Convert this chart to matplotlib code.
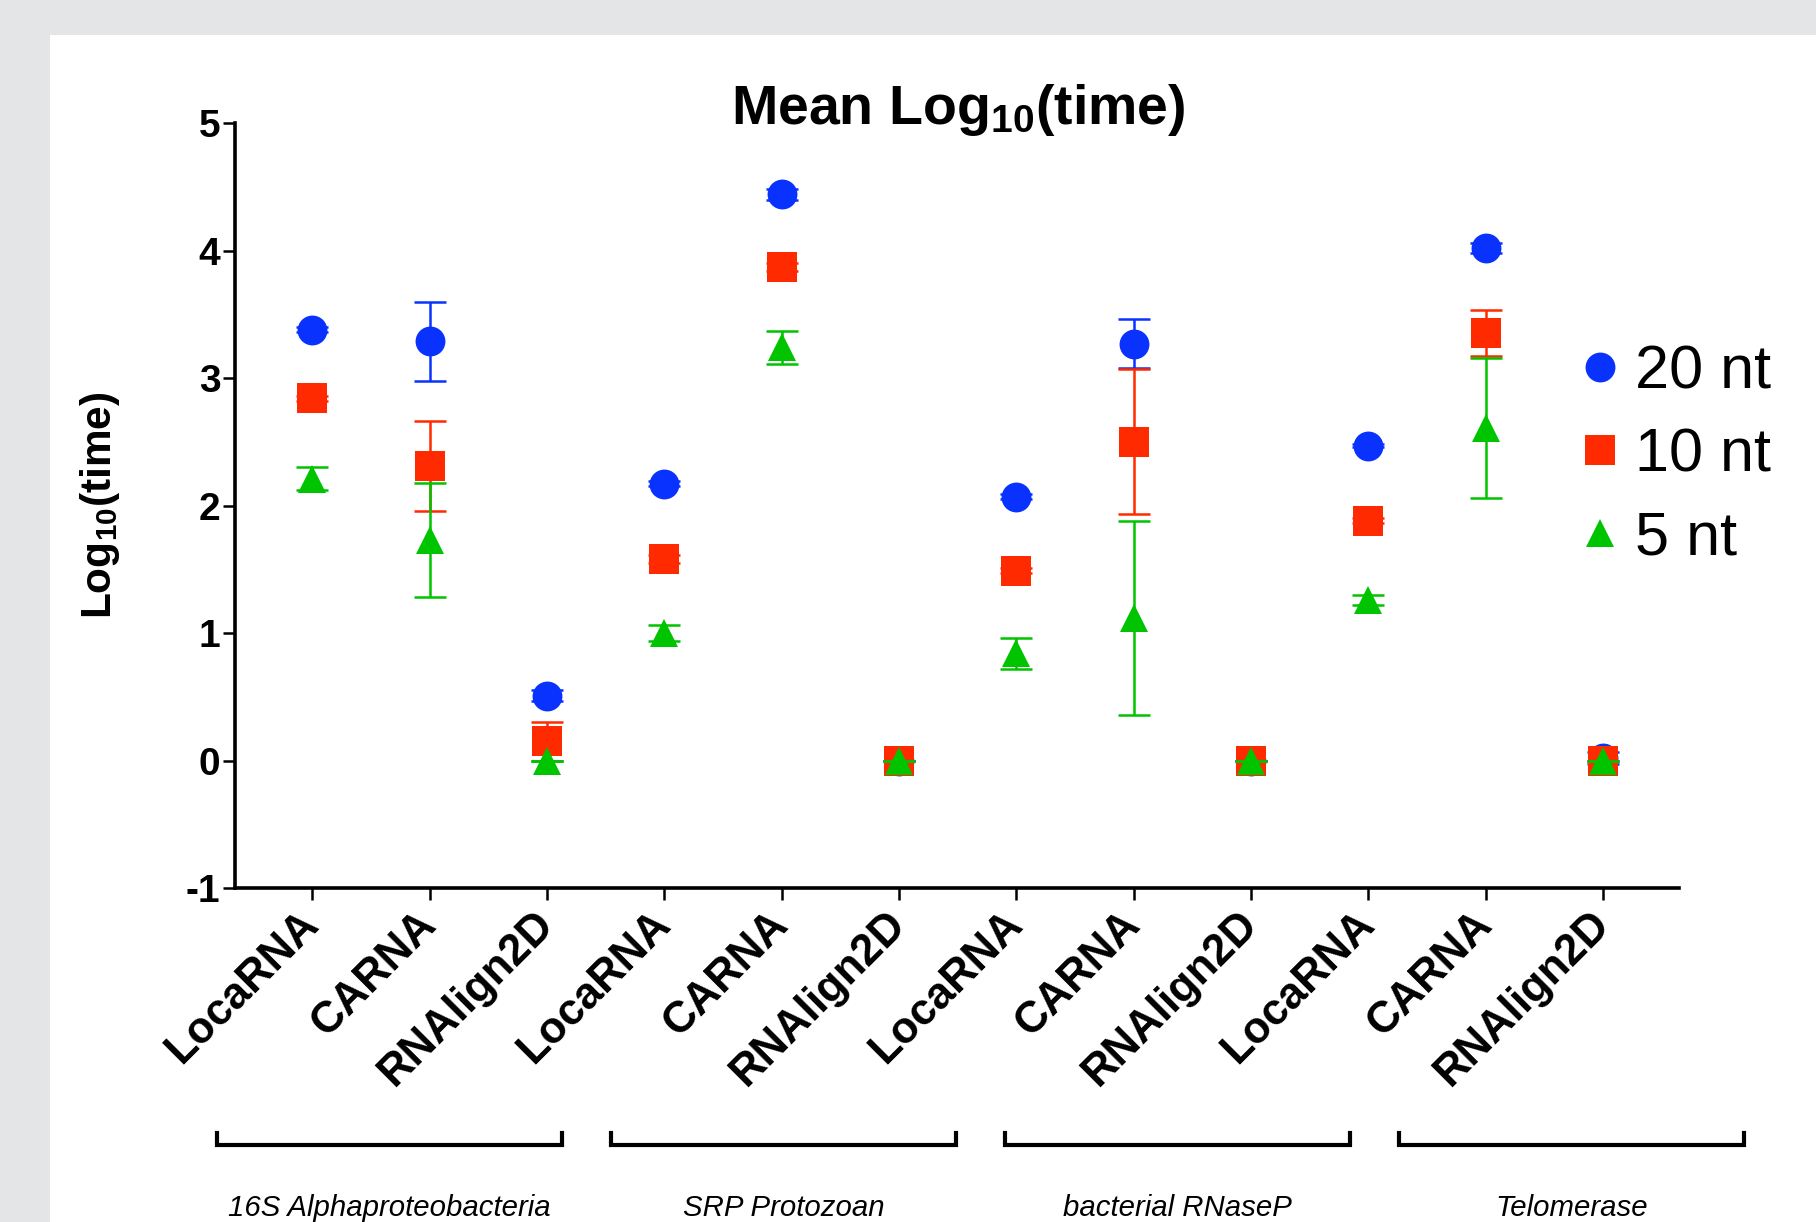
import matplotlib
matplotlib.use("Agg")
from matplotlib import pyplot as plt
from matplotlib.patches import Rectangle
from matplotlib.lines import Line2D

plt.rcParams['font.family'] = ['Liberation Sans', 'DejaVu Sans']
plt.rcParams['mathtext.default'] = 'regular'
plt.rcParams['axes.unicode_minus'] = False

methods = ["LocaRNA", "CARNA", "RNAlign2D"] * 4
groups = ["16S Alphaproteobacteria", "SRP Protozoan", "bacterial RNaseP", "Telomerase"]

nt20 = [3.38, 3.29, 0.51, 2.17, 4.44, 0.00, 2.07, 3.27, 0.00, 2.47, 4.02, 0.02]
nt20_err = [0.02, 0.31, 0.04, 0.02, 0.04, 0.00, 0.02, 0.19, 0.00, 0.01, 0.04, 0.05]
nt10 = [2.84, 2.31, 0.15, 1.58, 3.87, 0.00, 1.49, 2.50, 0.00, 1.88, 3.35, 0.00]
nt10_err = [0.02, 0.35, 0.15, 0.03, 0.03, 0.00, 0.02, 0.57, 0.00, 0.02, 0.18, 0.00]
nt5 = [2.21, 1.73, 0.00, 1.00, 3.24, 0.00, 0.84, 1.12, 0.00, 1.26, 2.61, 0.00]
nt5_err = [0.09, 0.45, 0.00, 0.06, 0.13, 0.00, 0.12, 0.76, 0.00, 0.04, 0.55, 0.00]

x = list(range(len(methods)))

fig = plt.figure(figsize=(18.16, 12.22), dpi=100, facecolor='#e4e5e7')
fig.patches.append(Rectangle((50 / 1816, 0), 1, 1 - 35 / 1222, transform=fig.transFigure,
                             facecolor='white', edgecolor='none', zorder=-5))

ax = fig.add_axes([0.1294, 0.2733, 0.7952, 0.626])
ax.set_facecolor('none')

series = [
    (nt20, nt20_err, '#0a32ff', 'o', 21.5, '20 nt'),
    (nt10, nt10_err, '#ff2a00', 's', 21, '10 nt'),
    (nt5, nt5_err, '#00c400', '^', 20, '5 nt'),
]
for vals, err, col, mk, ms, lab in series:
    ax.errorbar(x, vals, yerr=err, fmt='none', ecolor=col, elinewidth=1.8,
                capsize=11.5, capthick=1.8)
    ax.plot(x, vals, linestyle='none', marker=mk, markersize=ms, color=col,
            markeredgewidth=0, label=lab)

ax.set_xlim(-0.66, 11.65)
ax.set_ylim(-1, 5)
ax.set_yticks(range(-1, 6))
ax.set_xticks(x)
ax.set_xticklabels(methods, rotation=45, ha='right', va='center',
                   rotation_mode='anchor', fontsize=31.5, fontweight='bold')
for t in ax.get_yticklabels():
    t.set_fontweight('bold')
ax.tick_params(axis='y', labelsize=28, length=8.6, width=1.8, pad=2)
ax.tick_params(axis='x', length=8.6, width=1.8, pad=13)

for s in ['top', 'right']:
    ax.spines[s].set_visible(False)
for s in ['left', 'bottom']:
    ax.spines[s].set_linewidth(2.6)

ax.set_ylabel('Log$_{10}$(time)', fontsize=30.5, fontweight='bold')
ax.yaxis.set_label_coords(-0.078, 0.5)

fig.text(0.5275, 1 - 124 / 1222, 'Mean Log$_{10}$(time)', fontsize=40,
         fontweight='bold', ha='center', va='baseline')

ax.legend(loc='upper left', bbox_to_anchor=(1585 / 1816, 1 - 344 / 1222),
          bbox_transform=fig.transFigure, frameon=False, fontsize=44,
          handlelength=0.5, handletextpad=0.32, labelspacing=0.43,
          borderpad=0, borderaxespad=0)

# group brackets under the tick labels
for i, g in enumerate(groups):
    left = (217 + i * 394) / 1816
    right = left + 345 / 1816
    yb = 1 - 1145 / 1222
    ytop = yb + 12 / 1222
    fig.add_artist(Line2D([left, left, right, right], [ytop, yb, yb, ytop],
                          transform=fig.transFigure, color='black', linewidth=3,
                          solid_joinstyle='miter'))
    fig.text((left + right) / 2, 1 - 1216 / 1222, g, fontsize=21.2,
             style='italic', ha='center', va='baseline')

fig.savefig('out.png', dpi=100, facecolor=fig.get_facecolor())
